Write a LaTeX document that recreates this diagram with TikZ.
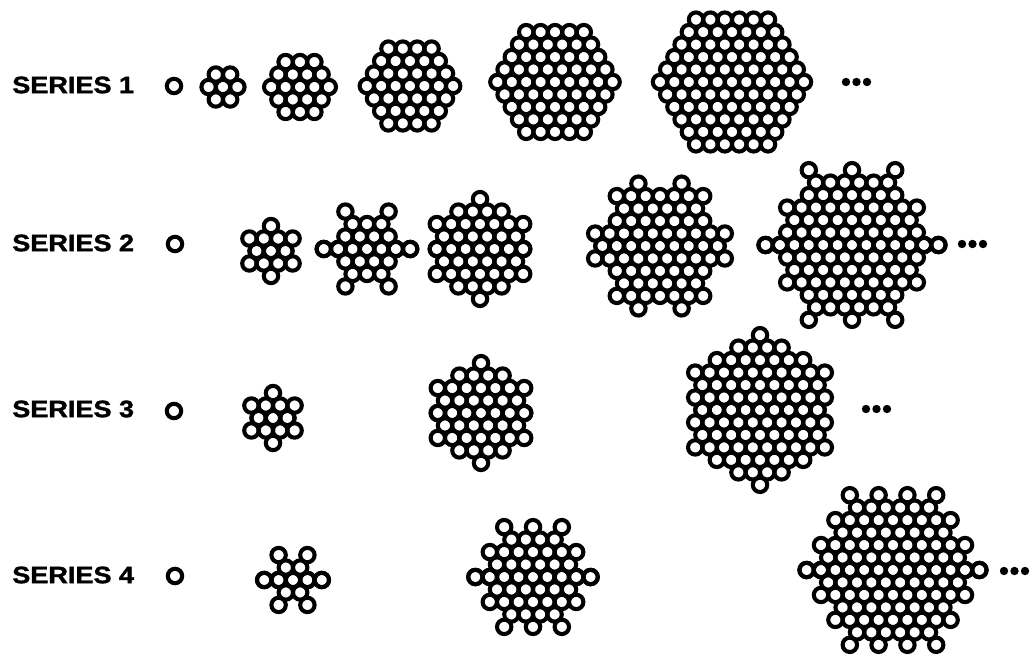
\documentclass[tikz,border=0pt]{standalone}
\usepackage{fontspec}
\setmainfont{Liberation Sans}
\newfontfamily\lblfont{Liberation Sans Bold}[FakeBold=1.4]
\usetikzlibrary{positioning}

\newcommand{\dx}{14.4}
\newcommand{\dy}{12.47}
% hexagon with side #3, centred at (#1,#2)
\newcommand{\hexclus}[3]{%
  \pgfmathtruncatemacro\nlo{1-#3}%
  \pgfmathtruncatemacro\nhi{#3-1}%
  \foreach \yy in {\nlo,...,\nhi}{%
    \pgfmathtruncatemacro\natoms{2*#3-1-abs(\yy)}
    \foreach \k in {1,...,\natoms}
      \draw[atom] ({#1+(\k-(\natoms+1)/2)*\dx},{#2+\yy*\dy}) circle[radius=7.2];
  }}
% rows y/first x/count, mirrored top and bottom
\newcommand{\rowclus}[3]{%
  \foreach \yy/\xa/\na in {#3}{%
    \foreach \k in {1,...,\na}{%
      \draw[atom] ({#1+(\xa+\k-1)*\dx},{#2-\yy*\dy}) circle[radius=7.2];
      \draw[atom] ({#1+(\xa+\k-1)*\dx},{#2+\yy*\dy}) circle[radius=7.2];
    }}}
\newcommand{\moredots}[2]{%
  \foreach \i in {0,1,2} \fill (#1+\i*10.5,#2) circle[radius=4.2];}
\newcommand{\serieslbl}[1]{\scalebox{1.14}[1]{#1}}

\begin{document}
\begin{tikzpicture}[
  x=0.75pt, y=-0.75pt,
  atom/.style={draw=black, line width=3.05pt},
  lbl/.style={anchor=west, inner sep=0pt, font=\lblfont\fontsize{17.8}{20}\selectfont}]
\useasboundingbox (0,0) rectangle (1030,656);

% series 1
\node[lbl] (s1) at (12,85) {\serieslbl{SERIES 1}};
\hexclus{174}{86}{1}
\hexclus{223}{87}{2}
\hexclus{300}{87}{3}
\hexclus{410}{86}{4}
\hexclus{555}{82}{5}
\hexclus{732}{82}{6}
\moredots{846}{82}

% series 2
\node[lbl] (s2) at (12,243) {\serieslbl{SERIES 2}};
\hexclus{175}{244}{1}
\rowclus{271}{251}{0/-1/3, 1/-1.5/4, 2/0/1}
\rowclus{367}{249}{0/-3/7, 1/-1.5/4, 2/-1/3, 3/-1.5/1, 3/1.5/1}
\rowclus{480}{249}{0/-3/7, 1/-2.5/6, 2/-3/7, 3/-1.5/4, 4/0/1}
\rowclus{660}{246}{0/-4/9, 1/-4.5/10, 2/-3/7, 3/-2.5/6, 4/-3/7, 5/-1.5/1, 5/1.5/1}
\rowclus{852}{245}{0/-6/13, 1/-4.5/10, 2/-4/9, 3/-4.5/10, 4/-3/7, 5/-2.5/6, 6/-3/1, 6/0/1, 6/3/1}
\moredots{962}{244}

% series 3
\node[lbl] (s3) at (12,409) {\serieslbl{SERIES 3}};
\hexclus{174}{411}{1}
\rowclus{273}{418}{0/-1/3, 1/-1.5/4, 2/0/1}
\rowclus{481}{413}{0/-3/7, 1/-2.5/6, 2/-3/7, 3/-1.5/4, 4/0/1}
\rowclus{760}{410}{0/-4/9, 1/-4.5/10, 2/-4/9, 3/-4.5/10, 4/-3/7, 5/-1.5/4, 6/0/1}
\moredots{866}{409}

% series 4
\node[lbl] (s4) at (12,575) {\serieslbl{SERIES 4}};
\hexclus{175}{576}{1}
\rowclus{293}{580}{0/-2/5, 1/-0.5/2, 2/-1/1, 2/1/1}
\rowclus{533}{577}{0/-4/9, 1/-2.5/6, 2/-3/7, 3/-1.5/4, 4/-2/1, 4/0/1, 4/2/1}
\rowclus{893}{570}{0/-6/13, 1/-4.5/10, 2/-5/11, 3/-3.5/8, 4/-4/9, 5/-2.5/6, 6/-3/1, 6/-1/1, 6/1/1, 6/3/1}
\moredots{1004}{571}
\end{tikzpicture}
\end{document}
